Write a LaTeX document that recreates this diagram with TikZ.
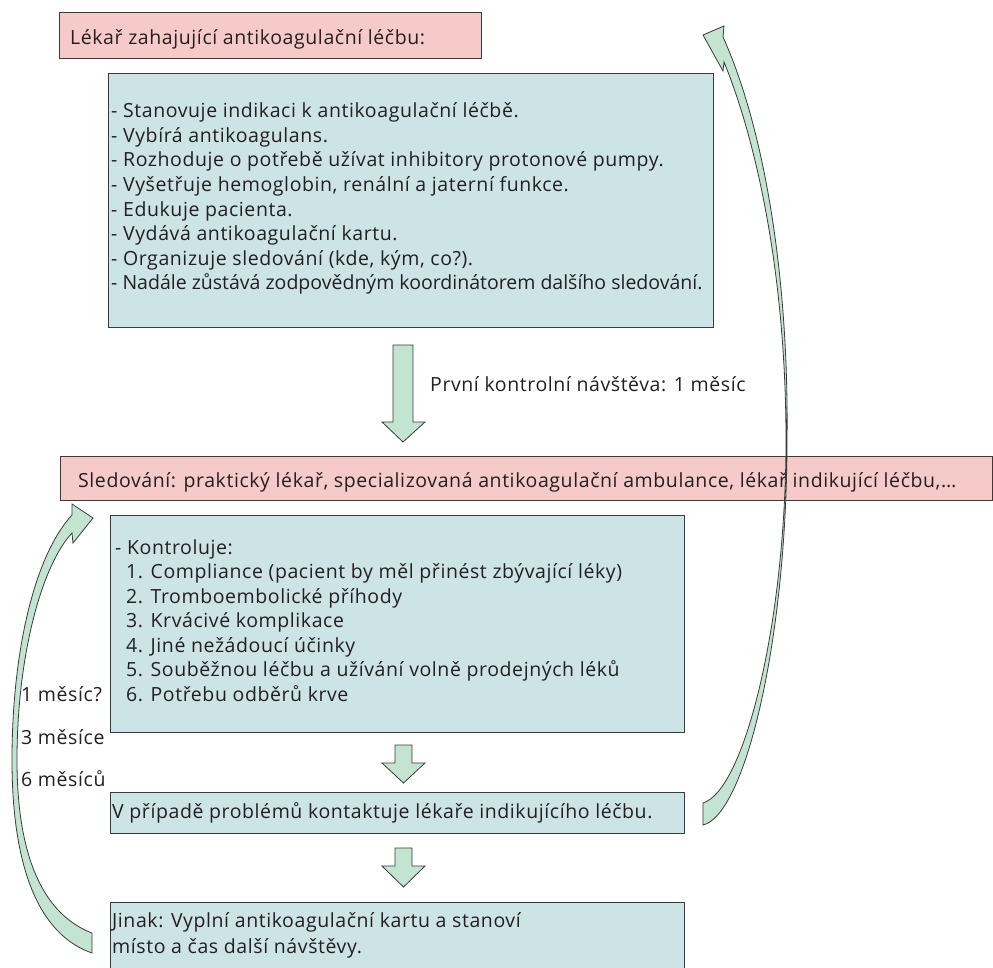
\documentclass[tikz,border=0pt]{standalone}
\usepackage{fontspec}
\setmainfont{Open Sans}
\newfontfamily\bodyfont[LetterSpace=3]{Open Sans}
\newfontfamily\tightfont{Open Sans}
\definecolor{pinkfill}{HTML}{F6CAC9}
\definecolor{cyanfill}{HTML}{CDE4E7}
\definecolor{greenfill}{HTML}{C3E4D0}
\definecolor{edgec}{HTML}{3A3A3A}
\definecolor{ink}{HTML}{231F20}
\begin{document}
\begin{tikzpicture}[x=1pt,y=-1pt,
  box/.style={draw=edgec, line width=1pt, anchor=north west, inner sep=0pt},
  pinkbox/.style={box, fill=pinkfill},
  cyanbox/.style={box, fill=cyanfill},
  txt/.style={anchor=base west, inner sep=0pt, align=left, text=ink, font=\bodyfont\fontsize{19.5}{24.5}\selectfont},
  blockarrow/.style={draw=edgec, fill=greenfill, line width=0.8pt, line join=miter}]
\useasboundingbox (0,0) rectangle (993,968);

% boxes
\node[pinkbox, minimum width=422pt, minimum height=46pt] (b1) at (59,12) {};
\node[cyanbox, minimum width=605pt, minimum height=254pt] (b2) at (108,73) {};
\node[pinkbox, minimum width=932pt, minimum height=44pt] (b3) at (60,456) {};
\node[cyanbox, minimum width=574pt, minimum height=217pt] (b4) at (110,515) {};
\node[cyanbox, minimum width=574pt, minimum height=41pt] (b5) at (110,792) {};
\node[cyanbox, minimum width=574pt, minimum height=67pt] (b6) at (110,902) {};

% texts (base anchor = baseline of the last line)
\node[txt] (t1) at (70,45) {Lékař zahajující antikoagulační léčbu:};
\node[txt] (t2) at (111,289.5) {- Stanovuje indikaci k antikoagulační léčbě.\\
- Vybírá antikoagulans.\\
- Rozhoduje o potřebě užívat inhibitory protonové pumpy.\\
- Vyšetřuje hemoglobin, renální a jaterní funkce.\\
- Edukuje pacienta.\\
- Vydává antikoagulační kartu.\\
- Organizuje sledování (kde, kým, co?).\\
{\tightfont - Nadále zůstává zodpovědným koordinátorem dalšího sledování.}};
\node[txt] (t3) at (430,391) {První kontrolní návštěva: 1 měsíc};
\node[txt] (t4) at (78,487) {Sledování: praktický lékař, specializovaná antikoagulační ambulance, lékař indikující léčbu,…};
\node[txt] (t5) at (115,701) {- Kontroluje:\\
\hspace*{11pt}1. Compliance (pacient by měl přinést zbývající léky)\\
\hspace*{11pt}2. Tromboembolické příhody\\
\hspace*{11pt}3. Krvácivé komplikace\\
\hspace*{11pt}4. Jiné nežádoucí účinky\\
\hspace*{11pt}5. Souběžnou léčbu a užívání volně prodejných léků\\
\hspace*{11pt}6. Potřebu odběrů krve};
\node[txt] (t6) at (112,818) {V případě problémů kontaktuje lékaře indikujícího léčbu.};
\node[txt, font=\bodyfont\fontsize{19.5}{26}\selectfont] (t7) at (112,953) {Jinak: Vyplní antikoagulační kartu a stanoví\\místo a čas další návštěvy.};
\node[txt] (l1) at (21,701) {1 měsíc?};
\node[txt] (l2) at (21,744) {3 měsíce};
\node[txt] (l3) at (21,786) {6 měsíců};

% straight block arrows
\draw[blockarrow] (393,345) -- (413,345) -- (413,422) -- (425,422) -- (403,442) -- (382,422) -- (393,422) -- cycle;
\draw[blockarrow] (395,745) -- (412,745) -- (412,763) -- (425,763) -- (403.5,783) -- (382,763) -- (395,763) -- cycle;
\draw[blockarrow] (395,848) -- (412,848) -- (412,866) -- (425,866) -- (403.5,887) -- (382,866) -- (395,866) -- cycle;

% right curved arrow
\draw[blockarrow] (703,803) -- (703,825)
  .. controls (745,815) and (787,640) .. (787,440)
  .. controls (789,280) and (765,130) .. (723,37)
  -- (724,26) -- (703,35) -- (723,71) -- (724,62)
  .. controls (758,145) and (786,280) .. (786,440)
  .. controls (786,620) and (745,790) .. (703,803) -- cycle;

% left curved arrow
\draw[blockarrow] (92,933) -- (92,953)
  .. controls (40,935) and (12,870) .. (12,760)
  .. controls (12,650) and (35,555) .. (72,515)
  -- (72,504) -- (93,518) -- (73,543) -- (72,533)
  .. controls (42,565) and (17,655) .. (17,760)
  .. controls (17,860) and (45,915) .. (92,933) -- cycle;
\end{tikzpicture}
\end{document}
